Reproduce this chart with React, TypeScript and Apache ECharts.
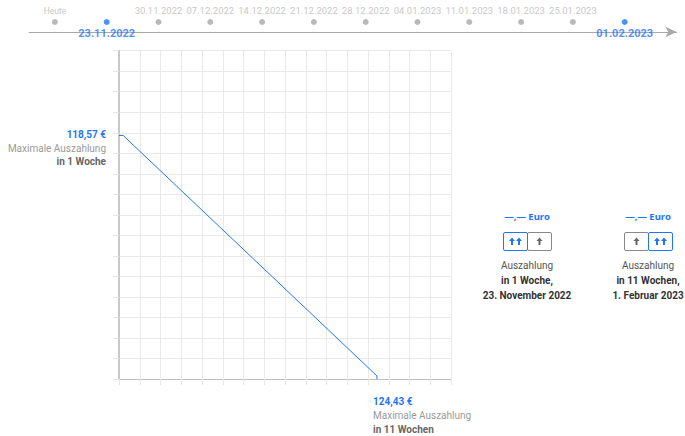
import React, { useEffect, useRef } from "react";
import * as echarts from "echarts";

const timelineLabels = [
  "Heute", "23.11.2022", "30.11.2022", "07.12.2022", "14.12.2022", "21.12.2022",
  "28.12.2022", "04.01.2023", "11.01.2023", "18.01.2023", "25.01.2023", "01.02.2023",
];
const highlighted = [1, 11];

const lineX = [0, 0.2, 12.43, 12.43];
const lineY = [11.87, 11.87, 0.15, 0];

const startValue = "118,57 €";
const endValue = "124,43 €";
const maxLabel = "Maximale Auszahlung";
const startWeeks = "in 1 Woche";
const endWeeks = "in 11 Wochen";

const cards = [
  { euro: "—,— Euro", active: 0, line1: "Auszahlung", line2: "in 1 Woche,", line3: "23. November 2022" },
  { euro: "—,— Euro", active: 1, line1: "Auszahlung", line2: "in 11 Wochen,", line3: "1. Februar 2023" },
];

const BLUE = "#1f75fa";
const FONT = "Roboto, sans-serif";

export default function App() {
  const ref = useRef<HTMLDivElement>(null);
  useEffect(() => {
    if (!ref.current) return;
    const chart = echarts.init(ref.current, undefined, { renderer: "svg" });

    const tlData = timelineLabels.map((l, i) => {
      const hi = highlighted.includes(i);
      return {
        value: [i, 0],
        symbolSize: 6,
        itemStyle: { color: hi ? BLUE : "#a8a8a8" },
        label: hi
          ? { show: true, position: "bottom", distance: 3, formatter: l, color: BLUE, fontWeight: "bold", fontSize: 11, fontFamily: FONT }
          : { show: true, position: "top", distance: 4, formatter: l, color: "#b8b8b8", fontSize: i === 0 ? 8.5 : 9.5, fontFamily: FONT },
      };
    });

    const graphics: any[] = [];
    const txt = (x: number, y: number, text: string, color: string, bold: boolean, align: string, size = 10, font = FONT) => ({
      type: "text", x, y,
      style: { text, fill: color, font: `${bold ? "bold " : ""}${size}px ${font}`, textAlign: align, textVerticalAlign: "middle" },
    });
    const arrow = (cx: number, cy: number, color: string) => ({
      type: "polygon",
      shape: {
        points: [
          [cx, cy - 4], [cx + 3, cy - 0.5], [cx + 1, cy - 0.5], [cx + 1, cy + 3.5],
          [cx - 1, cy + 3.5], [cx - 1, cy - 0.5], [cx - 3, cy - 0.5],
        ],
      },
      style: { fill: color },
      z: 10,
    });
    graphics.push(txt(106, 134, startValue, BLUE, true, "right"));
    graphics.push(txt(106, 148, maxLabel, "#9a9a9a", false, "right"));
    graphics.push(txt(106, 161, startWeeks, "#666", true, "right"));
    graphics.push(txt(373, 401, endValue, BLUE, true, "left"));
    graphics.push(txt(373, 415, maxLabel, "#9a9a9a", false, "left"));
    graphics.push(txt(373, 429, endWeeks, "#666", true, "left"));

    const cardX = [527, 648];
    cards.forEach((c, k) => {
      const cx = cardX[k];
      graphics.push(txt(cx, 216, c.euro, BLUE, true, "center", 9.5, "'Noto Sans', sans-serif"));
      const left = cx - 24;
      const halfW = 24;
      const top = 232;
      const h = 18;
      const halves = [
        { x: left, on: c.active === 0 },
        { x: left + halfW, on: c.active === 1 },
      ];
      halves.sort((a, b) => Number(a.on) - Number(b.on));
      halves.forEach((hv) => {
        graphics.push({
          type: "rect",
          shape: { x: hv.x + 0.5, y: top + 0.5, width: halfW, height: h, r: 1.5 },
          style: { fill: "#fff", stroke: hv.on ? BLUE : "#888", lineWidth: 1 },
        });
        const mid = hv.x + halfW / 2 + 0.5;
        const my = top + h / 2 + 0.5;
        if (hv.on) {
          graphics.push(arrow(mid - 3.5, my, BLUE));
          graphics.push(arrow(mid + 3.5, my, BLUE));
        } else {
          graphics.push(arrow(mid, my, "#666"));
        }
      });
      graphics.push(txt(cx, 265, c.line1, "#555", false, "center", 10));
      graphics.push(txt(cx, 280, c.line2, "#333", true, "center", 10));
      graphics.push(txt(cx, 295, c.line3, "#333", true, "center", 10));
    });

    chart.setOption({
      animation: false,
      textStyle: { fontFamily: FONT },
      grid: [
        { left: 119, top: 50.7, width: 332, height: 328.3 },
        { left: 29, top: 12, width: 647.5, height: 20 },
      ],
      xAxis: [
        {
          gridIndex: 0, type: "value", min: 0, max: 16, interval: 1,
          axisLine: { show: true, lineStyle: { color: "#bdbdbd", width: 1 } },
          axisTick: { show: true, length: 6, lineStyle: { color: "#e6e6e6" } },
          axisLabel: { show: false },
          splitLine: { show: true, lineStyle: { color: "#e9e9e9", width: 1 } },
        },
        {
          gridIndex: 1, type: "value", min: -0.5, max: 12,
          axisLine: { show: true, onZero: false, symbol: ["none", "arrow"], symbolSize: [8, 11], lineStyle: { color: "#a8a8a8", width: 1 } },
          axisTick: { show: false }, axisLabel: { show: false }, splitLine: { show: false },
          position: "bottom",
        },
      ],
      yAxis: [
        {
          gridIndex: 0, type: "value", min: 0, max: 16, interval: 1,
          axisLine: { show: true, lineStyle: { color: "#c8c8c8", width: 2 } },
          axisTick: { show: true, length: 6, lineStyle: { color: "#e6e6e6" } },
          axisLabel: { show: false },
          splitLine: { show: true, lineStyle: { color: "#e9e9e9", width: 1 } },
        },
        {
          gridIndex: 1, type: "value", min: -1, max: 1, show: false,
        },
      ],
      series: [
        {
          type: "line", xAxisIndex: 0, yAxisIndex: 0,
          data: lineX.map((x, i) => [x, lineY[i]]),
          showSymbol: false, symbol: "none",
          lineStyle: { color: BLUE, width: 1 },
        },
        {
          type: "scatter", xAxisIndex: 1, yAxisIndex: 1,
          data: tlData,
          z: 5,
        },
      ],
      graphic: graphics,
    });
    return () => chart.dispose();
  }, []);
  return <div ref={ref} style={{ width: 685, height: 436, position: "absolute", left: 0, top: 0 }} />;
}
